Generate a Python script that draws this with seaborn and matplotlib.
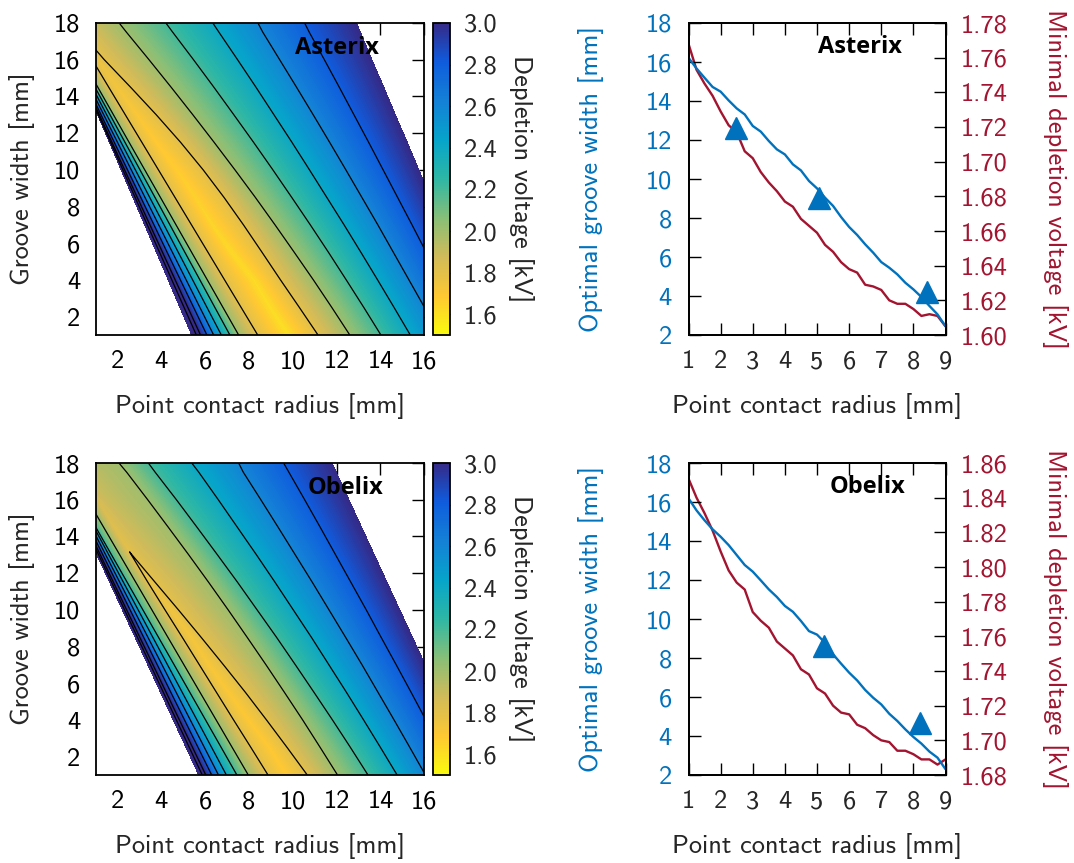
import numpy as np
import matplotlib
matplotlib.use("Agg")
import matplotlib.pyplot as plt
from matplotlib.colors import LinearSegmentedColormap, Normalize
from matplotlib.cm import ScalarMappable
from matplotlib.ticker import FormatStrFormatter
import seaborn as sns

sns.set_style("white")
plt.rcParams['font.family'] = ['cmss10', 'DejaVu Sans']
plt.rcParams['axes.unicode_minus'] = False
plt.rcParams['axes.formatter.use_mathtext'] = False

BLUE = '#0072bd'
RED = '#a2142f'
FS = 19

# ---------------- right-hand panels: optimum vs point-contact radius ----------------
RADIUS = [1.0, 1.25, 1.5, 1.75, 2.0, 2.25, 2.5, 2.75, 3.0, 3.25, 3.5, 3.75, 4.0, 4.25,
          4.5, 4.75, 5.0, 5.25, 5.5, 5.75, 6.0, 6.25, 6.5, 6.75, 7.0, 7.25, 7.5, 7.75,
          8.0, 8.25, 8.5, 8.75, 9.0]
AST_OPT_G = [16.22, 15.67, 15.19, 14.72, 14.48, 14.03, 13.62, 13.31, 12.72, 12.43, 11.95,
             11.52, 11.26, 10.75, 10.44, 9.90, 9.52, 9.04, 8.62, 8.05, 7.54, 7.13, 6.65,
             6.22, 5.74, 5.45, 5.11, 4.68, 4.34, 3.95, 3.49, 3.06, 2.45]
AST_MIN_V = [1.768, 1.753, 1.745, 1.738, 1.729, 1.721, 1.717, 1.706, 1.702, 1.694, 1.688,
             1.683, 1.677, 1.674, 1.667, 1.663, 1.659, 1.652, 1.648, 1.642, 1.638, 1.636,
             1.629, 1.628, 1.626, 1.620, 1.618, 1.618, 1.615, 1.611, 1.612, 1.611, 1.605]
OBX_OPT_G = [16.19, 15.57, 15.06, 14.60, 14.22, 13.79, 13.28, 12.77, 12.43, 11.98, 11.52,
             11.13, 10.67, 10.37, 9.90, 9.38, 9.20, 8.78, 8.19, 7.71, 7.25, 6.85, 6.36,
             5.96, 5.62, 5.14, 4.77, 4.34, 3.95, 3.61, 3.20, 2.89, 2.30]
OBX_MIN_V = [1.851, 1.840, 1.831, 1.821, 1.809, 1.798, 1.791, 1.787, 1.774, 1.769, 1.765,
             1.757, 1.753, 1.749, 1.741, 1.738, 1.730, 1.727, 1.720, 1.716, 1.715, 1.709,
             1.707, 1.703, 1.700, 1.699, 1.694, 1.694, 1.692, 1.689, 1.689, 1.686, 1.689]
AST_MARK_R = [2.49, 5.05, 8.42]
AST_MARK_G = [12.59, 9.04, 4.23]
OBX_MARK_R = [5.21, 8.21]
OBX_MARK_G = [8.62, 4.65]
AST_V_TICKS = [1.60, 1.62, 1.64, 1.66, 1.68, 1.70, 1.72, 1.74, 1.76, 1.78]
OBX_V_TICKS = [1.68, 1.70, 1.72, 1.74, 1.76, 1.78, 1.80, 1.82, 1.84, 1.86]
G_TICKS = [2, 4, 6, 8, 10, 12, 14, 16, 18]
R_TICKS_LINE = [1, 2, 3, 4, 5, 6, 7, 8, 9]
R_TICKS_MAP = [2, 4, 6, 8, 10, 12, 14, 16]
CB_TICKS = [1.6, 1.8, 2.0, 2.2, 2.4, 2.6, 2.8, 3.0]

# ---------------- heat maps ----------------
# Each map is stored as traced iso-voltage lines: for every groove-width row the radius
# where the line crosses it (left boundary, lower lines, valley, upper lines, right
# boundary).  Positions outside the plotted window only keep the lines ordered.
CONTOUR_LEVELS = [1.8, 2.0, 2.2, 2.4, 2.6, 2.8, 3.0, 3.2]
G_ROWS = [1.0, 2.5, 4.0, 5.5, 7.0, 8.5, 10.0, 11.5, 13.0, 14.5, 16.0, 17.5, 18.0]

AST_VALLEY_V = [1.595, 1.606, 1.612, 1.621, 1.634, 1.647, 1.664, 1.683, 1.704, 1.730,
                1.762, 1.79, 1.80]
AST_COL_V = [3.4, 3.2, 3.0, 2.8, 2.6, 2.4, 2.2, 2.0, 1.8, AST_VALLEY_V,
             1.8, 2.0, 2.2, 2.4, 2.6, 2.8, 3.0]
AST_COL_R = [
    [5.39, 4.853, 4.317, 3.780, 3.243, 2.707, 2.170, 1.633, 1.097, 0.56, -0.6, -1.6, -1.9],
    [5.60, 5.041, 4.483, 3.924, 3.365, 2.806, 2.248, 1.689, 1.130, 0.57, -0.5, -1.5, -1.8],
    [5.79, 5.213, 4.636, 4.059, 3.482, 2.904, 2.327, 1.750, 1.173, 0.596, -0.4, -1.4, -1.7],
    [6.08, 5.477, 4.873, 4.270, 3.667, 3.063, 2.460, 1.857, 1.253, 0.65, -0.3, -1.3, -1.6],
    [6.39, 5.763, 5.137, 4.510, 3.883, 3.256, 2.630, 2.003, 1.376, 0.75, -0.2, -1.2, -1.5],
    [6.74, 6.086, 5.432, 4.779, 4.125, 3.471, 2.817, 2.164, 1.510, 0.856, -0.1, -1.1, -1.4],
    [7.13, 6.446, 5.763, 5.079, 4.395, 3.712, 3.028, 2.344, 1.661, 0.977, 0.0, -1.0, -1.3],
    [7.53, 6.816, 6.102, 5.388, 4.674, 3.960, 3.246, 2.532, 1.819, 1.105, 0.39, -0.7, -1.0],
    [8.40, 7.645, 6.890, 6.135, 5.380, 4.625, 3.870, 3.115, 2.359, 1.604, 0.85, -0.2, -0.5],
    [9.80, 8.97, 8.22, 7.21, 6.32, 5.55, 4.70, 3.76, 2.88, 1.98, 1.10, 0.10, -0.20],
    [11.15, 10.30, 9.44, 8.60, 7.75, 6.86, 5.91, 4.88, 3.77, 2.60, 1.40, 0.31, -0.05],
    [12.60, 11.78, 10.94, 10.07, 9.19, 8.29, 7.36, 6.41, 5.44, 4.45, 3.44, 2.41, 2.08],
    [14.02, 13.24, 12.44, 11.63, 10.80, 9.95, 9.09, 8.21, 7.31, 6.40, 5.47, 4.52, 4.21],
    [15.36, 14.62, 13.87, 13.11, 12.34, 11.55, 10.76, 9.96, 9.14, 8.32, 7.48, 6.63, 6.35],
    [16.70, 16.01, 15.30, 14.59, 13.88, 13.15, 12.42, 11.68, 10.93, 10.17, 9.40, 8.63, 8.41],
    [18.00, 17.37, 16.73, 16.09, 15.44, 14.78, 14.12, 13.46, 12.79, 12.12, 11.44, 10.75,
     10.54],
    [18.95, 18.42, 17.89, 17.35, 16.82, 16.28, 15.75, 15.22, 14.68, 14.15, 13.61, 13.08,
     12.90]]

OBX_VALLEY_V = [1.685, 1.688, 1.692, 1.700, 1.711, 1.724, 1.743, 1.765, 1.798, 1.818,
                1.847, 1.88, 1.90]
OBX_LOOP_L_V = [1.8, 1.8, 1.8, 1.8, 1.8, 1.8, 1.8, 1.8, 1.85, 1.88, 1.90, 1.92, 1.93]
OBX_LOOP_U_V = [1.8, 1.8, 1.8, 1.8, 1.8, 1.8, 1.8, 1.8, 1.85, 1.88, 1.90, 1.92, 1.93]
OBX_COL_V = [3.4, 3.2, 3.0, 2.8, 2.6, 2.4, 2.2, 2.0, OBX_LOOP_L_V, OBX_VALLEY_V,
             OBX_LOOP_U_V, 2.0, 2.2, 2.4, 2.6, 2.8, 3.0]
OBX_COL_R = [
    [5.71, 5.129, 4.549, 3.968, 3.387, 2.807, 2.226, 1.645, 1.064, 0.485, -0.3, -1.6, -1.9],
    [5.87, 5.279, 4.688, 4.097, 3.506, 2.915, 2.324, 1.733, 1.142, 0.551, -0.2, -1.5, -1.8],
    [6.03, 5.428, 4.827, 4.225, 3.623, 3.022, 2.420, 1.818, 1.217, 0.615, -0.1, -1.4, -1.7],
    [6.30, 5.679, 5.059, 4.438, 3.818, 3.197, 2.576, 1.956, 1.335, 0.714, 0.0, -1.3, -1.6],
    [6.61, 5.967, 5.323, 4.680, 4.037, 3.393, 2.750, 2.107, 1.463, 0.820, 0.1, -1.2, -1.5],
    [6.97, 6.299, 5.628, 4.958, 4.287, 3.616, 2.945, 2.274, 1.604, 0.933, 0.2, -1.1, -1.4],
    [7.45, 6.735, 6.020, 5.305, 4.590, 3.875, 3.160, 2.445, 1.729, 1.014, 0.30, -1.0, -1.3],
    [7.97, 7.237, 6.504, 5.770, 5.037, 4.304, 3.571, 2.838, 2.104, 1.371, 0.638, -0.2, -0.5],
    [8.87, 8.09, 7.30, 6.52, 5.74, 4.96, 4.17, 3.39, 2.45, 1.65, 0.90, 0.0, -0.3],
    [9.70, 8.92, 7.97, 7.06, 6.16, 5.37, 4.45, 3.51, 2.64, 1.82, 1.08, 0.20, -0.10],
    [10.66, 9.74, 8.80, 7.84, 6.84, 5.82, 4.78, 3.72, 3.20, 2.50, 1.60, 0.90, 0.50],
    [12.04, 11.25, 10.45, 9.62, 8.78, 7.92, 7.05, 6.16, 5.25, 4.32, 3.38, 2.42, 2.07],
    [13.43, 12.63, 11.81, 10.97, 10.12, 9.26, 8.37, 7.48, 6.56, 5.63, 4.69, 3.72, 3.41],
    [14.76, 14.00, 13.23, 12.45, 11.65, 10.85, 10.02, 9.19, 8.34, 7.47, 6.60, 5.71, 5.39],
    [16.05, 15.34, 14.62, 13.89, 13.16, 12.41, 11.65, 10.89, 10.11, 9.33, 8.54, 7.74, 7.53],
    [17.40, 16.74, 16.07, 15.40, 14.72, 14.03, 13.35, 12.65, 11.95, 11.25, 10.54, 9.82,
     9.58],
    [18.36, 17.78, 17.20, 16.62, 16.04, 15.46, 14.88, 14.30, 13.72, 13.14, 12.56, 11.98,
     11.79]]

PARULA = ["#352a87", "#0f5cdd", "#1481d6", "#06a4ca", "#2eb7a4",
          "#87bf77", "#d1bb59", "#fec832", "#f9fb0e"]
CMAP = LinearSegmentedColormap.from_list("parula_r", PARULA[::-1], N=512)
NORM = Normalize(vmin=1.5, vmax=3.0)

W, H = 1074, 863
fig = plt.figure(figsize=(W / 100, H / 100), dpi=100)


def box(l, t, r, b):
    return [l / W, 1 - b / H, (r - l) / W, (b - t) / H]


def style_spines(ax, lw=1.3):
    for s in ax.spines.values():
        s.set_color('black')
        s.set_linewidth(lw)
        s.set_visible(True)


def heat_panel(top, bottom, name, name_x, col_r, col_v):
    ax = fig.add_axes(box(95.5, top, 424.3, bottom))
    cax = fig.add_axes(box(433, top, 450, bottom))
    n_rows = len(G_ROWS)
    X = np.array(col_r, float).T
    Y = np.repeat(np.array(G_ROWS, float)[:, None], X.shape[1], axis=1)
    Z = np.column_stack([np.broadcast_to(np.asarray(v, float), (n_rows,)) for v in col_v])
    ax.contourf(X, Y, Z, levels=np.linspace(1.5, 3.0, 151), cmap=CMAP, norm=NORM,
                extend='both', antialiased=False)
    ax.contour(X, Y, Z, levels=np.array(CONTOUR_LEVELS) + 1e-4, colors='k',
               linewidths=0.9)
    ax.set_xlim(1, 16)
    ax.set_ylim(1, 18)
    ax.set_xticks(R_TICKS_MAP)
    ax.set_yticks(G_TICKS)
    ax.tick_params(direction='in', length=8.5, width=1.0, top=True, right=True,
                   labelsize=FS, pad=11, color='black', labelcolor='black')
    style_spines(ax)
    ax.text(name_x, 0.90, name, transform=ax.transAxes, ha='center', va='baseline',
            fontsize=17, fontweight='bold', family='Open Sans', color='black')

    sm = ScalarMappable(norm=NORM, cmap=CMAP)
    cb = fig.colorbar(sm, cax=cax, ticks=CB_TICKS)
    cb.ax.yaxis.set_major_formatter(FormatStrFormatter('%.1f'))
    cb.ax.tick_params(direction='in', length=12.3, width=1.0, labelsize=FS, pad=10,
                      color='black')
    cb.outline.set_linewidth(1.3)
    cb.outline.set_edgecolor('black')

    yc = 1 - (top + bottom) / 2 / H
    fig.text(22.5 / W, yc, 'Groove width [mm]', rotation=90, ha='center', va='center',
             fontsize=FS)
    fig.text(520.5 / W, yc, 'Depletion voltage [kV]', rotation=270, ha='center',
             va='center', fontsize=FS)
    fig.text(259.9 / W, 1 - (bottom + 71) / H, 'Point contact radius [mm]',
             ha='center', va='center', fontsize=FS)


def line_panel(top, bottom, name, name_x, opt_g, min_v, mr, mg, vticks):
    ax = fig.add_axes(box(688.5, top, 945.5, bottom))
    axr = ax.twinx()
    sns.lineplot(x=RADIUS, y=min_v, ax=axr, color=RED, linewidth=1.7)
    sns.lineplot(x=RADIUS, y=opt_g, ax=ax, color=BLUE, linewidth=1.7)
    ax.plot(mr, mg, linestyle='none', marker='^', markersize=15.5, color=BLUE,
            markeredgecolor=BLUE)
    ax.set_zorder(axr.get_zorder() + 1)
    ax.patch.set_visible(False)
    ax.set_xlim(1, 9)
    ax.set_ylim(2, 18)
    axr.set_ylim(vticks[0], vticks[-1])
    ax.set_xticks(R_TICKS_LINE)
    ax.set_yticks(G_TICKS)
    axr.set_yticks(vticks)
    axr.yaxis.set_major_formatter(FormatStrFormatter('%.2f'))
    for a in (ax, axr):
        a.set_xlabel('')
        a.set_ylabel('')
    ax.tick_params(axis='x', direction='in', length=8.5, width=1.0, top=True,
                   bottom=True, labelsize=FS, pad=11, color='black')
    ax.tick_params(axis='y', direction='in', length=8.5, width=1.0, left=True,
                   right=False, labelsize=FS, pad=12, color='black', labelcolor=BLUE)
    axr.tick_params(axis='y', direction='in', length=8.5, width=1.0, right=True,
                    left=False, labelsize=FS, pad=11, color='black', labelcolor=RED)
    style_spines(ax)
    style_spines(axr)
    ax.text(name_x, 0.904, name, transform=ax.transAxes, ha='center', va='baseline',
            fontsize=17, fontweight='bold', family='Open Sans', color='black')
    yc = 1 - (top + bottom) / 2 / H
    fig.text(591 / W, yc, 'Optimal groove width [mm]', rotation=90, ha='center',
             va='center', fontsize=FS, color=BLUE)
    fig.text(1054.5 / W, yc, 'Minimal depletion voltage [kV]', rotation=270,
             ha='center', va='center', fontsize=FS, color=RED)
    fig.text(817 / W, 1 - (bottom + 71) / H, 'Point contact radius [mm]',
             ha='center', va='center', fontsize=FS)


heat_panel(23, 335, 'Asterix', 0.7345, AST_COL_R, AST_COL_V)
heat_panel(463, 775, 'Obelix', 0.759, OBX_COL_R, OBX_COL_V)
line_panel(23, 335, 'Asterix', 0.666, AST_OPT_G, AST_MIN_V, AST_MARK_R, AST_MARK_G,
           AST_V_TICKS)
line_panel(463, 775, 'Obelix', 0.698, OBX_OPT_G, OBX_MIN_V, OBX_MARK_R, OBX_MARK_G,
           OBX_V_TICKS)

fig.savefig('out.png', dpi=100)
